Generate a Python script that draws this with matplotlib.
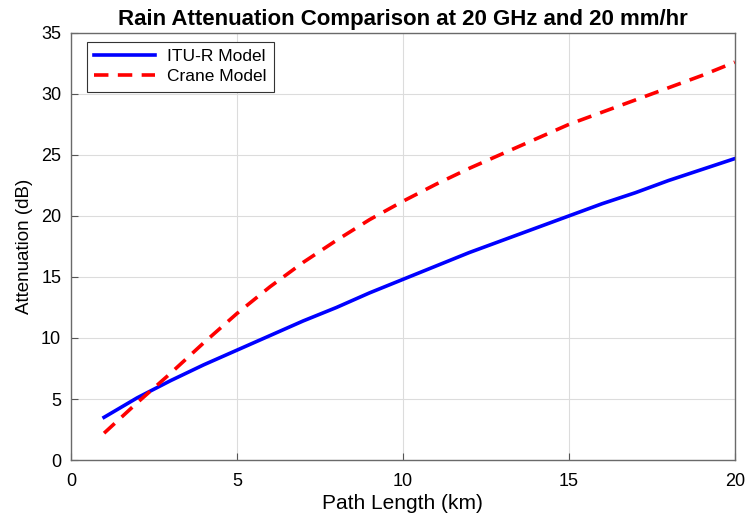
import numpy as np
import matplotlib.pyplot as plt

plt.rcParams['font.family'] = ['Liberation Sans', 'DejaVu Sans']

# 路径长度 (km)
path_km = [1, 2, 3, 4, 5, 6, 7, 8, 9, 10, 11, 12, 13, 14, 15, 16, 17, 18, 19, 20]
# ITU-R 模型衰减 (dB)
itu_db = [3.5, 5.1, 6.5, 7.8, 9.0, 10.2, 11.4, 12.5, 13.7, 14.8,
          15.9, 17.0, 18.0, 19.0, 20.0, 21.0, 21.9, 22.9, 23.8, 24.7]
# Crane 模型衰减 (dB)
crane_db = [2.2, 4.7, 7.1, 9.6, 12.0, 14.2, 16.2, 18.0, 19.7, 21.2,
            22.6, 23.9, 25.1, 26.3, 27.5, 28.5, 29.5, 30.5, 31.5, 32.6]

fig = plt.figure(figsize=(7.46, 5.14), dpi=100)
ax = fig.add_axes([0.095, 0.105, 0.89, 0.831])

ax.plot(path_km, itu_db, color='#0000ff', lw=2.6, label='ITU-R Model')
ax.plot(path_km, crane_db, color='#ff0000', lw=2.6, ls=(0, (4, 2.6)), label='Crane Model')

ax.set_xlim(0, 20)
ax.set_ylim(0, 35)
ax.set_xticks([0, 5, 10, 15, 20])
ax.set_yticks(range(0, 36, 5))
ax.grid(True, color='#dcdcdc', lw=0.8)
ax.tick_params(direction='in', labelsize=13, length=5, color='#555555')
ax.tick_params(axis='x', pad=9)
ax.tick_params(axis='y', pad=7)
for s in ax.spines.values():
    s.set_color('#6a6a6a')
    s.set_linewidth(1.0)

ax.set_xlabel('Path Length (km)', fontsize=15, labelpad=3)
ax.set_ylabel('Attenuation (dB)', fontsize=13.5, labelpad=6)
ax.set_title('Rain Attenuation Comparison at 20 GHz and 20 mm/hr',
             fontsize=16, fontweight='bold', pad=6)

leg = ax.legend(loc='upper left', bbox_to_anchor=(0.024, 0.979), borderaxespad=0,
                fontsize=12.5, fancybox=False, framealpha=1,
                edgecolor='#333333', handlelength=3.5, labelspacing=0.28,
                borderpad=0.42, handletextpad=0.7)
leg.get_frame().set_linewidth(0.8)

fig.savefig('out.png', dpi=100)
